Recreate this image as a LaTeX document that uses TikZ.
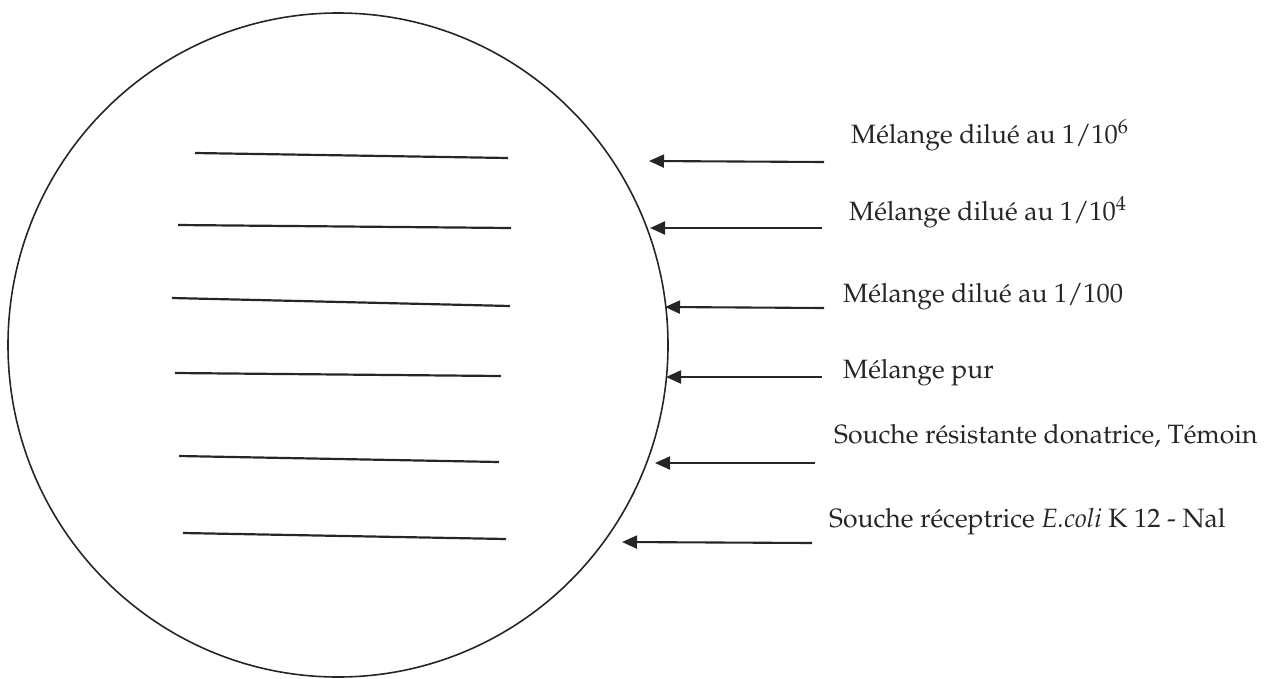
\documentclass[tikz,border=0pt]{standalone}
\usepackage[T1]{fontenc}
\usepackage{mathpazo}
\usetikzlibrary{arrows.meta}
\tikzset{
  plate/.style={draw=black!85, line width=1.6pt},
  streak/.style={draw=black!85, line width=2.2pt},
  arr/.style={draw=black!85, line width=2.1pt,
    -{Triangle[length=15pt,width=13pt]}},
  lbl/.style={anchor=base west, inner sep=0pt, text=black!85,
    font=\fontsize{26.5}{31}\selectfont}
}
\begin{document}
\begin{tikzpicture}[x=1pt,y=-1pt]
  \useasboundingbox (0,0) rectangle (1265,678);
  % Petri dish
  \draw[plate] (338,345) ellipse [x radius=330, y radius=332];
  % streaks
  \coordinate (s1a) at (195,153); \coordinate (s1b) at (508,158);
  \coordinate (s2a) at (178,225); \coordinate (s2b) at (511,228);
  \coordinate (s3a) at (172,298); \coordinate (s3b) at (510,306);
  \coordinate (s4a) at (175,373); \coordinate (s4b) at (501,376);
  \coordinate (s5a) at (179,456); \coordinate (s5b) at (499,462);
  \coordinate (s6a) at (183,533); \coordinate (s6b) at (506,539);
  \foreach \i in {1,...,6} \draw[streak] (s\i a) -- (s\i b);
  % labels
  \node[lbl] (l1) at (851,143) {M\'elange dilu\'e au 1/10\textsuperscript{6}};
  \node[lbl] (l2) at (849,220) {M\'elange dilu\'e au 1/10\textsuperscript{4}};
  \node[lbl] (l3) at (843,302) {M\'elange dilu\'e au 1/100};
  \node[lbl] (l4) at (843,378) {M\'elange pur};
  \node[lbl] (l5) at (834,443) {Souche r\'esistante donatrice, T\'emoin};
  \node[lbl] (l6) at (829,527) {Souche r\'eceptrice \textit{E.coli} K 12 - Nal};
  % arrows
  \coordinate (t1) at (824,162); \coordinate (h1) at (649,161);
  \coordinate (t2) at (822,228); \coordinate (h2) at (650,228);
  \coordinate (t3) at (824,308); \coordinate (h3) at (665,307);
  \coordinate (t4) at (822,377); \coordinate (h4) at (666,377);
  \coordinate (t5) at (815,463); \coordinate (h5) at (655,463);
  \coordinate (t6) at (812,543); \coordinate (h6) at (622,542);
  \foreach \i in {1,...,6} \draw[arr] (t\i) -- (h\i);
\end{tikzpicture}
\end{document}
